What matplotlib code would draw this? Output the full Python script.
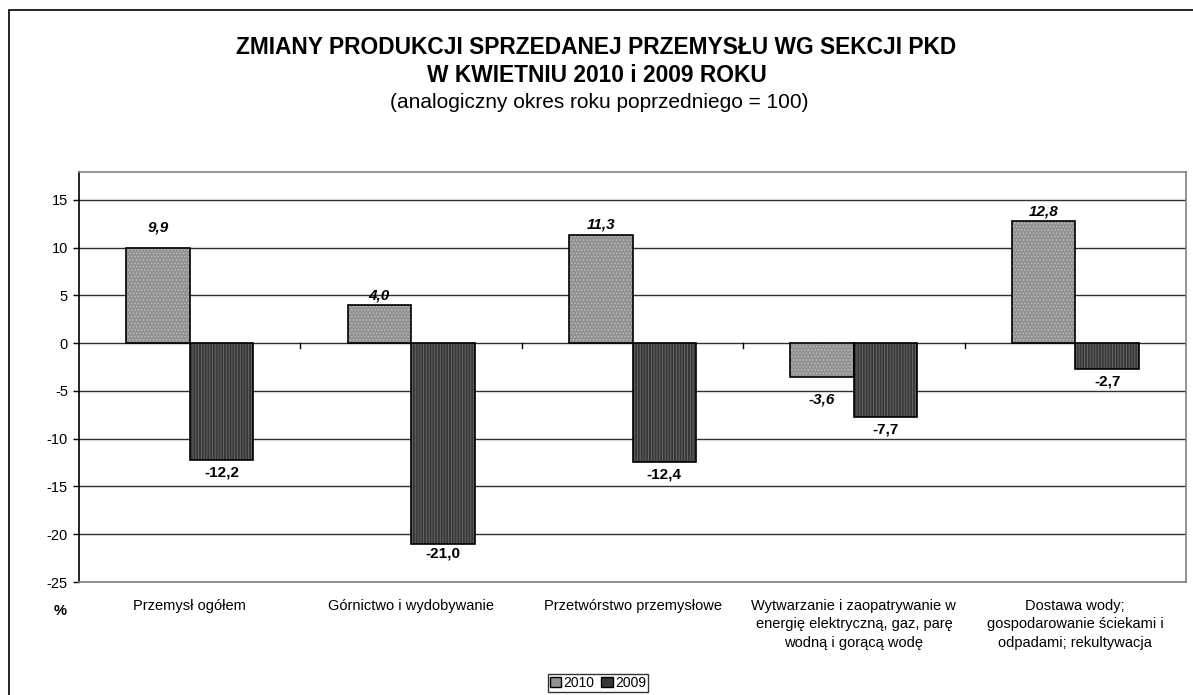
import matplotlib
matplotlib.use("Agg")
import matplotlib.pyplot as plt
import numpy as np
from matplotlib.patches import Patch, Rectangle

plt.rcParams['font.family'] = ['Liberation Sans', 'DejaVu Sans']
plt.rcParams['hatch.linewidth'] = 0.6

# data
categories = [
    "Przemysł ogółem",
    "Górnictwo i wydobywanie",
    "Przetwórstwo przemysłowe",
    "Wytwarzanie i zaopatrywanie w\nenergię elektryczną, gaz, parę\nwodną i gorącą wodę",
    "Dostawa wody;\ngospodarowanie ściekami i\nodpadami; rekultywacja",
]
v2010 = [9.9, 4.0, 11.3, -3.6, 12.8]
v2009 = [-12.2, -21.0, -12.4, -7.7, -2.7]
yticks = [-25, -20, -15, -10, -5, 0, 5, 10, 15]

# label offsets in pixels (Excel placed them a bit irregularly)
off2010 = [21, 9, 11, -22, 9]
off2009 = [-13, -10, -13, -13, -13]

W, H = 1193, 695
fig = plt.figure(figsize=(W / 100, H / 100), dpi=100)
ax = fig.add_axes([79 / W, 1 - 582 / H, (1186 - 79) / W, (582 - 172) / H])

# outer frame of the chart
fig.patches.append(Rectangle((9 / W, -0.05), 1.2, 1 - 10 / H + 0.05,
                             transform=fig.transFigure, fill=False,
                             edgecolor='black', linewidth=1.2))

x = np.arange(len(categories))
bw = 0.287

# grid
for t in yticks:
    ax.axhline(t, color='#303030', linewidth=1.0, zorder=1)

b1 = ax.bar(x - bw / 2, v2010, bw, color='#929292', hatch='.....',
            edgecolor='#bdbdbd', linewidth=0, zorder=2)
b2 = ax.bar(x + bw / 2, v2009, bw, color='#383838', hatch='||||||',
            edgecolor='#6a6a6a', linewidth=0, zorder=2)
ax.bar(x - bw / 2, v2010, bw, fill=False, edgecolor='black', linewidth=1.2, zorder=3)
ax.bar(x + bw / 2, v2009, bw, fill=False, edgecolor='black', linewidth=1.2, zorder=3)

# small category ticks at zero line
for b in np.arange(0.5, len(categories) - 0.5, 1.0):
    ax.plot([b, b], [0, -0.55], color='black', linewidth=1, zorder=3)

def fmt(v):
    return f"{v:.1f}".replace('.', ',')

for xi, v, o in zip(x - bw / 2, v2010, off2010):
    ax.annotate(fmt(v), (xi, v), xytext=(0, o), textcoords='offset pixels',
                ha='center', va='center', fontsize=11, fontweight='bold',
                fontstyle='italic', zorder=4)
for xi, v, o in zip(x + bw / 2, v2009, off2009):
    ax.annotate(fmt(v), (xi, v), xytext=(0, o), textcoords='offset pixels',
                ha='center', va='center', fontsize=11, fontweight='bold',
                zorder=4)

ax.set_xlim(-0.5, len(categories) - 0.5)
ax.set_ylim(-25, 17.9)
ax.set_yticks(yticks)
ax.set_yticklabels([str(t) for t in yticks], fontsize=10.5)
ax.set_xticks(x)
ax.set_xticklabels(categories, fontsize=10.5, linespacing=1.42, va='top')
ax.tick_params(axis='x', length=0, pad=12)
ax.tick_params(axis='y', length=4, width=1, pad=4)

for s in ['top', 'right', 'bottom']:
    ax.spines[s].set_color('#808080')
    ax.spines[s].set_linewidth(1.2)
ax.spines['left'].set_color('black')
ax.spines['left'].set_linewidth(1.2)

fig.text(60 / W, 1 - 611 / H, "%", ha='center', va='center',
         fontsize=10.5, fontweight='bold')

fig.text(596 / W, 1 - 48 / H, "ZMIANY PRODUKCJI SPRZEDANEJ PRZEMYSŁU WG SEKCJI PKD",
         ha='center', va='center', fontsize=16.4, fontweight='bold')
fig.text(597 / W, 1 - 75 / H, "W KWIETNIU 2010 i 2009 ROKU",
         ha='center', va='center', fontsize=16.4, fontweight='bold')
fig.text(599 / W, 1 - 102 / H, "(analogiczny okres roku poprzedniego = 100)",
         ha='center', va='center', fontsize=15)

handles = [Patch(facecolor='#929292', edgecolor='black', label='2010'),
           Patch(facecolor='#383838', edgecolor='black', label='2009')]
leg = fig.legend(handles=handles, loc='center', bbox_to_anchor=(598 / W, 1 - 683 / H),
                 ncol=2, fontsize=10, frameon=True, fancybox=False,
                 handlelength=0.8, handleheight=0.8, handletextpad=0.2,
                 columnspacing=0.5, borderpad=0.15, borderaxespad=0)
leg.get_frame().set_edgecolor('black')
leg.get_frame().set_linewidth(1.0)

fig.savefig("out.png", dpi=100)
